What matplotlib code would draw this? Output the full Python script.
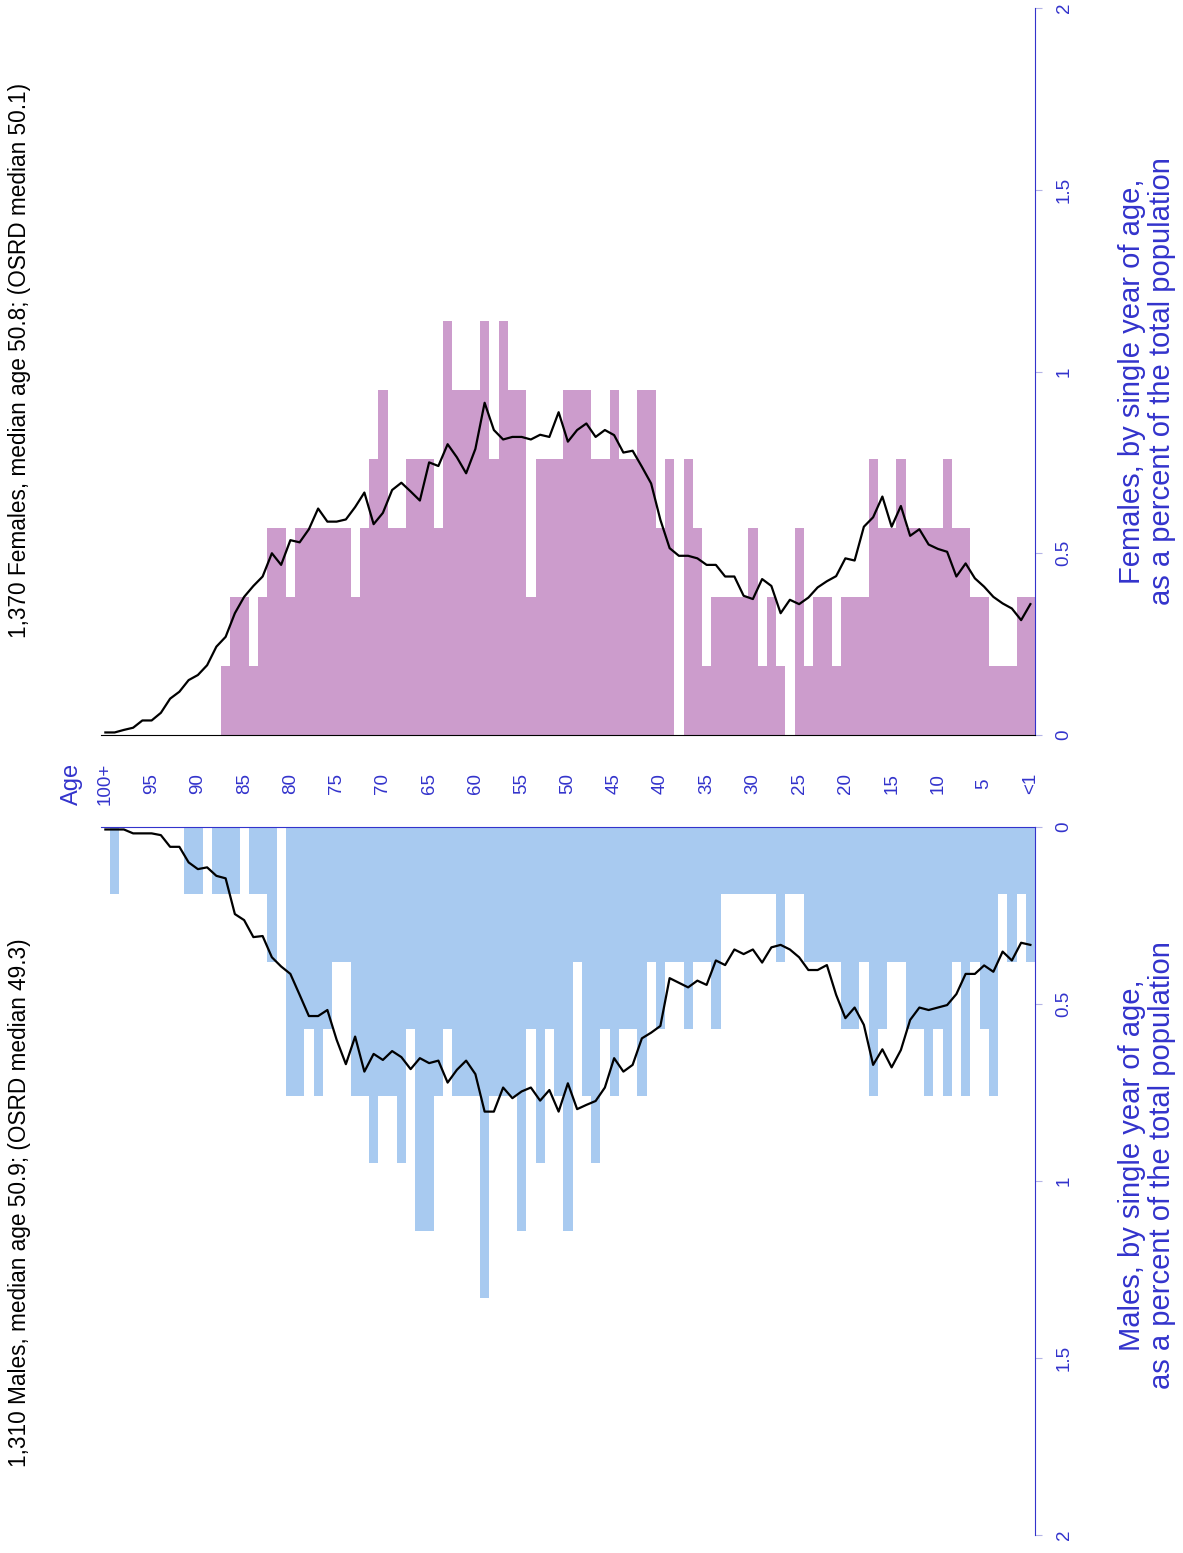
import matplotlib
matplotlib.use("Agg")
import matplotlib.pyplot as plt

plt.rcParams['font.family'] = ['Liberation Sans', 'DejaVu Sans']

# single years of age, <1 .. 100+
ages = list(range(0, 101))

# bars: percent of total population, by age 0..100
female_pct = [
  0.38, 0.38, 0.19, 0.19, 0.19, 0.38, 0.38, 0.57, 0.57, 0.76,
  0.57, 0.57, 0.57, 0.57, 0.76, 0.57, 0.57, 0.76, 0.38, 0.38,
  0.38, 0.19, 0.38, 0.38, 0.19, 0.57, 0.00, 0.19, 0.38, 0.19,
  0.57, 0.38, 0.38, 0.38, 0.38, 0.19, 0.57, 0.76, 0.00, 0.76,
  0.57, 0.95, 0.95, 0.76, 0.76, 0.95, 0.76, 0.76, 0.95, 0.95,
  0.95, 0.76, 0.76, 0.76, 0.38, 0.95, 0.95, 1.14, 0.76, 1.14,
  0.95, 0.95, 0.95, 1.14, 0.57, 0.76, 0.76, 0.76, 0.57, 0.57,
  0.95, 0.76, 0.57, 0.38, 0.57, 0.57, 0.57, 0.57, 0.57, 0.57,
  0.38, 0.57, 0.57, 0.38, 0.19, 0.38, 0.38, 0.19, 0.00, 0.00,
  0.00, 0.00, 0.00, 0.00, 0.00, 0.00, 0.00, 0.00, 0.00, 0.00,
  0.00,
]
male_pct = [
  0.38, 0.19, 0.38, 0.19, 0.76, 0.57, 0.38, 0.76, 0.38, 0.76,
  0.57, 0.76, 0.57, 0.57, 0.38, 0.38, 0.57, 0.76, 0.38, 0.57,
  0.57, 0.38, 0.38, 0.38, 0.38, 0.19, 0.19, 0.38, 0.19, 0.19,
  0.19, 0.19, 0.19, 0.19, 0.57, 0.38, 0.38, 0.57, 0.38, 0.38,
  0.57, 0.38, 0.76, 0.57, 0.57, 0.76, 0.57, 0.95, 0.76, 0.38,
  1.14, 0.76, 0.57, 0.95, 0.57, 1.14, 0.76, 0.76, 0.76, 1.33,
  0.76, 0.76, 0.76, 0.57, 0.76, 1.14, 1.14, 0.57, 0.95, 0.76,
  0.76, 0.95, 0.76, 0.76, 0.38, 0.38, 0.57, 0.76, 0.57, 0.76,
  0.76, 0.00, 0.38, 0.19, 0.19, 0.00, 0.19, 0.19, 0.19, 0.00,
  0.19, 0.19, 0.00, 0.00, 0.00, 0.00, 0.00, 0.00, 0.00, 0.19,
  0.00,
]

# OSRD reference distribution (black lines)
female_osrd = [
  0.360, 0.316, 0.348, 0.362, 0.380, 0.408, 0.431, 0.472, 0.436, 0.504,
  0.512, 0.524, 0.566, 0.548, 0.630, 0.573, 0.656, 0.599, 0.573, 0.480,
  0.486, 0.437, 0.423, 0.406, 0.378, 0.360, 0.372, 0.335, 0.410, 0.429,
  0.374, 0.383, 0.436, 0.436, 0.468, 0.468, 0.486, 0.493, 0.493, 0.514,
  0.592, 0.692, 0.738, 0.782, 0.777, 0.825, 0.839, 0.820, 0.857, 0.839,
  0.807, 0.888, 0.820, 0.826, 0.813, 0.820, 0.820, 0.813, 0.839, 0.914,
  0.787, 0.720, 0.764, 0.800, 0.740, 0.750, 0.645, 0.670, 0.694, 0.674,
  0.611, 0.580, 0.667, 0.627, 0.593, 0.587, 0.587, 0.623, 0.566, 0.530,
  0.536, 0.468, 0.500, 0.436, 0.410, 0.380, 0.335, 0.270, 0.243, 0.192,
  0.165, 0.151, 0.119, 0.100, 0.061, 0.040, 0.040, 0.020, 0.014, 0.007,
  0.007,
]
male_osrd = [
  0.333, 0.327, 0.377, 0.352, 0.409, 0.391, 0.415, 0.415, 0.472, 0.503,
  0.510, 0.517, 0.510, 0.545, 0.630, 0.679, 0.628, 0.672, 0.559, 0.510,
  0.540, 0.474, 0.390, 0.404, 0.404, 0.368, 0.346, 0.333, 0.340, 0.383,
  0.346, 0.359, 0.346, 0.390, 0.377, 0.446, 0.434, 0.453, 0.440, 0.427,
  0.562, 0.581, 0.597, 0.672, 0.691, 0.653, 0.736, 0.774, 0.785, 0.797,
  0.724, 0.804, 0.743, 0.773, 0.736, 0.747, 0.766, 0.736, 0.804, 0.804,
  0.698, 0.660, 0.686, 0.722, 0.660, 0.667, 0.653, 0.684, 0.650, 0.633,
  0.658, 0.641, 0.691, 0.592, 0.670, 0.601, 0.517, 0.534, 0.534, 0.474,
  0.415, 0.394, 0.368, 0.308, 0.311, 0.263, 0.246, 0.145, 0.138, 0.114,
  0.119, 0.100, 0.056, 0.056, 0.023, 0.018, 0.018, 0.018, 0.007, 0.007,
  0.007,
]

age_ticks = [100, 95, 90, 85, 80, 75, 70, 65, 60, 55, 50,
             45, 40, 35, 30, 25, 20, 15, 10, 5, 0]
age_labels = ["100+", "95", "90", "85", "80", "75", "70", "65", "60", "55", "50",
              "45", "40", "35", "30", "25", "20", "15", "10", "5", "<1"]
pct_ticks = [0, 0.5, 1, 1.5, 2]
pct_labels = ["0", "0.5", "1", "1.5", "2"]

female_title = "1,370 Females, median age 50.8; (OSRD median 50.1)"
male_title = "1,310 Males, median age 50.9; (OSRD median 49.3)"

BLUE = "#3333cc"
TICKC = "#b4b4e6"
W, H = 1183, 1553

fig = plt.figure(figsize=(W / 100, H / 100), dpi=100)
ax_f = fig.add_axes([100.75 / W, (H - 735) / H, 934.25 / W, 727 / H])
ax_m = fig.add_axes([100.75 / W, (H - 1535) / H, 934.25 / W, 708 / H])

ax_f.bar(ages, female_pct, width=1.0, color="#cc9ccc", linewidth=0)
ax_f.plot(ages, female_osrd, color="black", lw=1.6)
ax_m.bar(ages, male_pct, width=1.0, color="#a8caf0", linewidth=0)
ax_m.plot(ages, male_osrd, color="black", lw=1.6)

for ax in (ax_f, ax_m):
  ax.set_xlim(100.5, -0.5)
  ax.spines["left"].set_visible(False)
  ax.spines["right"].set_color(BLUE)
  ax.yaxis.tick_right()
  ax.set_yticks(pct_ticks)
  ax.set_yticklabels(pct_labels)
  ax.tick_params(axis="y", length=5, color=TICKC, labelcolor=BLUE,
                 labelsize=13.5, pad=16)
  for lab in ax.get_yticklabels():
    lab.set_rotation(90)
    lab.set_va("center")
    lab.set_ha("center")

ax_f.set_ylim(0, 2)
ax_f.spines["top"].set_visible(False)
ax_f.spines["bottom"].set_color("black")
ax_f.set_xticks(age_ticks)
ax_f.set_xticklabels(age_labels)
ax_f.tick_params(axis="x", length=0, labelcolor=BLUE, labelsize=13.5, pad=35)
for lab in ax_f.get_xticklabels():
  lab.set_rotation(90)
  lab.set_va("center")

ax_m.set_ylim(2, 0)
ax_m.spines["bottom"].set_visible(False)
ax_m.spines["top"].set_color(BLUE)
ax_m.set_xticks([])

fig.text(72 / W, 1 - 784 / H, "Age", rotation=90, ha="center", va="center",
         fontsize=17, color=BLUE)
fig.text(20 / W, 1 - 360 / H, female_title, rotation=90, ha="center", va="center",
         fontsize=16.3, color="black")
fig.text(20 / W, 1 - 1203 / H, male_title, rotation=90, ha="center", va="center",
         fontsize=16.3, color="black")
fig.text(1147 / W, 1 - 381 / H,
         "Females, by single year of age,\nas a percent of the total population",
         rotation=90, ha="center", va="center", multialignment="center",
         fontsize=21, color=BLUE, linespacing=1.1)
fig.text(1147 / W, 1 - 1165 / H,
         "Males, by single year of age,\nas a percent of the total population",
         rotation=90, ha="center", va="center", multialignment="center",
         fontsize=21, color=BLUE, linespacing=1.1)

fig.savefig("out.png", dpi=100)
